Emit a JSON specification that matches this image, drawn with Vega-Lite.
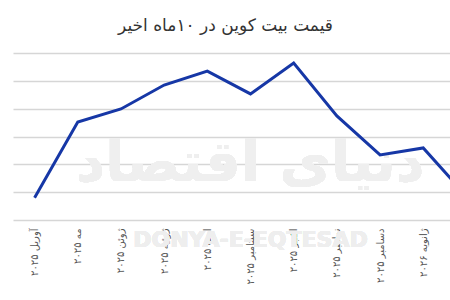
{
  "$schema": "https://vega.github.io/schema/vega-lite/v6.json",
  "width": 437,
  "height": 167,
  "autosize": {"type": "none"},
  "padding": {"left": 13, "top": 53, "right": 0, "bottom": 80},
  "background": "white",
  "config": {"view": {"stroke": null}, "font": "DejaVu Sans"},
  "title": {"text": "قیمت بیت کوین در  ۱۰ماه اخیر", "fontSize": 17, "fontWeight": "normal", "color": "#333333", "anchor": "middle", "dx": -6, "offset": 18, "font": "DejaVu Sans"},
  "data": {"values": [
    {"month": "آوریل ۲۰۲۵", "price": 78000},
    {"month": "مه ۲۰۲۵", "price": 105200},
    {"month": "ژوئن ۲۰۲۵", "price": 109900},
    {"month": "ژوئیه ۲۰۲۵", "price": 118500},
    {"month": "اوت ۲۰۲۵", "price": 123500},
    {"month": "سپتامبر ۲۰۲۵", "price": 115300},
    {"month": "اکتبر ۲۰۲۵", "price": 126400},
    {"month": "نوامبر ۲۰۲۵", "price": 107400},
    {"month": "دسامبر ۲۰۲۵", "price": 93400},
    {"month": "ژانویه ۲۰۲۶", "price": 95900},
    {"month": "فوریه ۲۰۲۶", "price": 78600}
  ]},
  "encoding": {
    "x": {"field": "month", "type": "ordinal", "sort": null,
      "scale": {"type": "point", "padding": 0.5, "range": [0, 475],
        "domain": ["آوریل ۲۰۲۵", "مه ۲۰۲۵", "ژوئن ۲۰۲۵", "ژوئیه ۲۰۲۵", "اوت ۲۰۲۵", "سپتامبر ۲۰۲۵", "اکتبر ۲۰۲۵", "نوامبر ۲۰۲۵", "دسامبر ۲۰۲۵", "ژانویه ۲۰۲۶", "فوریه ۲۰۲۶"]},
      "axis": {"title": null, "labelAngle": -90, "labelFontSize": 10, "labelColor": "#555555", "labelPadding": 8, "ticks": false, "domain": false, "grid": false, "labelFont": "DejaVu Sans"}},
    "y": {"field": "price", "type": "quantitative",
      "scale": {"domain": [70000, 130000], "nice": false, "zero": false},
      "axis": {"title": null, "labels": false, "ticks": false, "domain": false, "values": [70000, 80000, 90000, 100000, 110000, 120000, 130000], "gridColor": "#d6d6d6", "gridWidth": 1.5}}
  },
  "layer": [
    {"mark": {"type": "text", "text": "دنیای اقتصاد", "fontSize": 56, "fontWeight": "bold", "color": "#efefef", "align": "center", "baseline": "middle", "font": "DejaVu Sans"},
     "encoding": {"x": {"datum": "سپتامبر ۲۰۲۵"}, "y": {"datum": 90000}}},
    {"mark": {"type": "text", "text": "DONYA-E-EQTESAD", "fontSize": 22, "fontWeight": "bold", "color": "#eeeeee", "align": "center", "baseline": "middle", "font": "DejaVu Sans", "clip": false},
     "encoding": {"x": {"datum": "سپتامبر ۲۰۲۵"}, "y": {"datum": 62800}}},
    {"mark": {"type": "line", "color": "#1637a6", "strokeWidth": 3, "clip": true}}
  ]
}
